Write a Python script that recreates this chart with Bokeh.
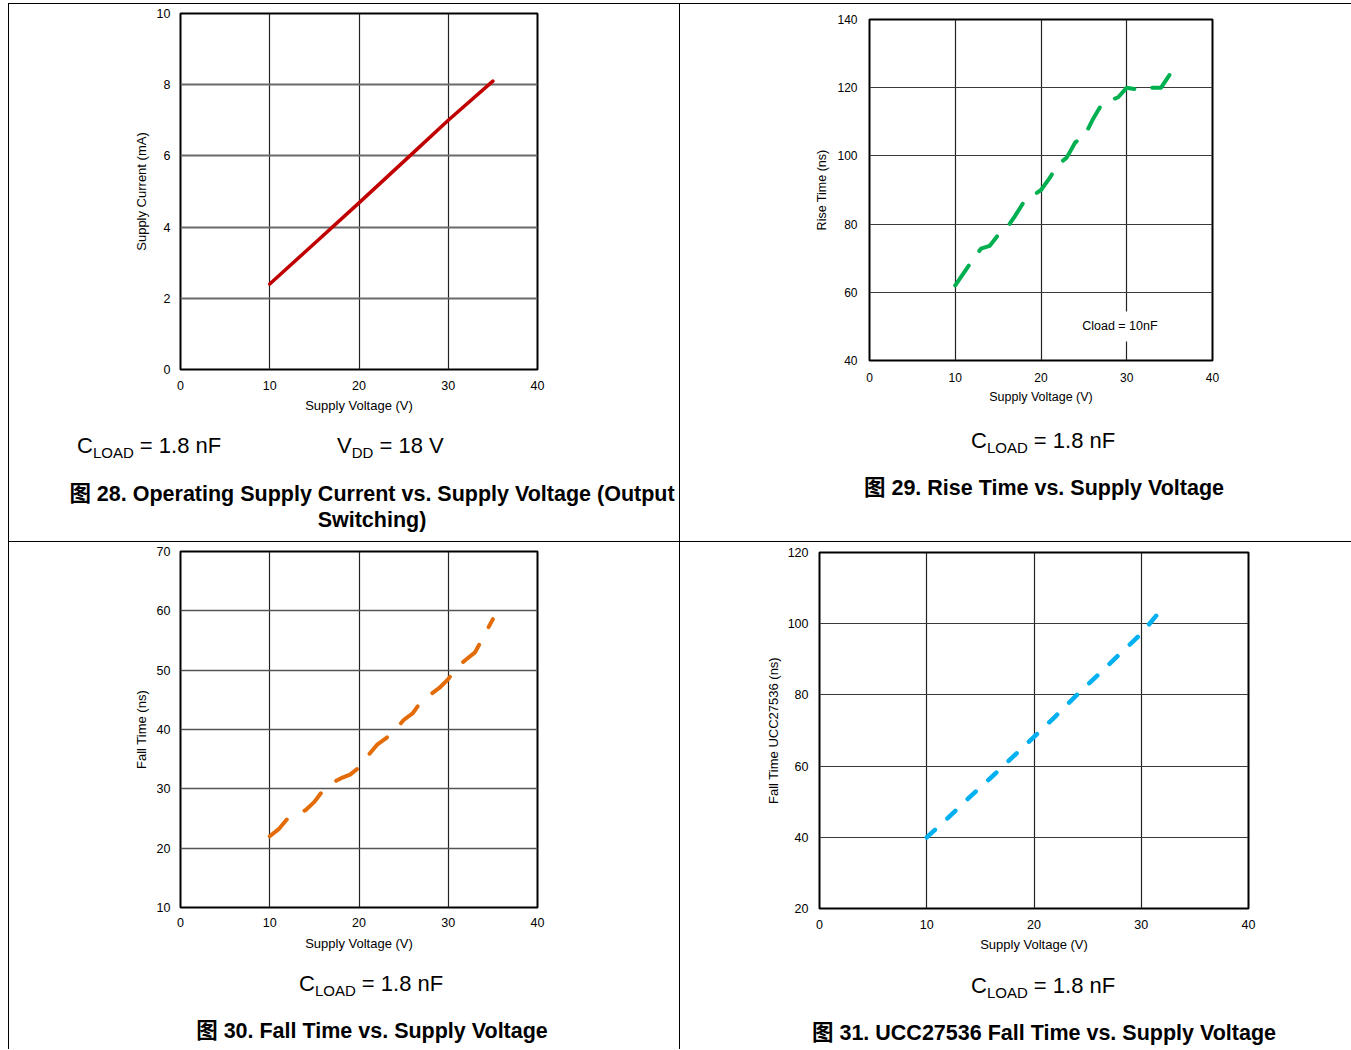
from bokeh.plotting import figure
from bokeh.models import Range1d, FixedTicker, Label, Div
from bokeh.embed import file_html
from bokeh.resources import INLINE

FONT = "Liberation Sans"
CSS_FONT = "'Liberation Sans', 'Noto Sans CJK SC', sans-serif"

# ---------------- data ----------------
x_ticks = [0, 10, 20, 30, 40]

# Fig 28: operating supply current vs supply voltage
v_current = [10, 15, 20, 26, 30, 35]
supply_current = [2.4, 3.54, 4.68, 6.07, 7.0, 8.1]
current_ticks = [0, 2, 4, 6, 8, 10]

# Fig 29: rise time vs supply voltage
v_rise = [10, 11, 12, 13, 14, 15, 16, 17, 18, 19, 20, 21, 22, 23, 24, 25, 26, 27, 28, 29, 30, 31, 32, 33, 34, 35]
rise_time = [62, 65.7, 69.4, 72.8, 73.6, 76.8, 78.8, 82.5, 86.5, 88.3, 90, 93.5, 97.5, 99.5, 104, 105.5,
             110.5, 114.8, 116.2, 117.2, 120, 119.6, 120, 120, 120, 123.8]
rise_ticks = [40, 60, 80, 100, 120, 140]

# Fig 30: fall time vs supply voltage
v_fall = [10, 11, 12, 13, 14, 15, 16, 17, 18, 19, 20, 21, 22, 23, 24, 25, 26, 27, 28, 29, 30, 31, 32, 33, 34, 35]
fall_time = [22.0, 23.2, 25.0, 25.8, 26.4, 27.8, 29.8, 31.0, 31.8, 32.4, 33.6, 35.6, 37.4, 38.5, 39.8, 41.6,
             42.7, 44.8, 45.9, 47.0, 48.5, 50.5, 51.8, 53.0, 55.8, 58.6]
fall_ticks = [10, 20, 30, 40, 50, 60, 70]

# Fig 31: UCC27536 fall time vs supply voltage
v_fall2 = [10, 12, 14, 16, 18, 20, 22, 24, 26, 28, 30, 31.6]
fall_time2 = [40, 45.5, 51.3, 56.8, 62.5, 68.2, 74, 80, 85.7, 91.5, 97.2, 103]
fall2_ticks = [20, 40, 60, 80, 100, 120]

x_label = "Supply Voltage (V)"
SUB = "<span style='font-size:15px;position:relative;top:5px'>{}</span>"
cload_html = "C" + SUB.format("LOAD") + " = 1.8 nF"
vdd_html = "V" + SUB.format("DD") + " = 18 V"
titles = {
    28: "图 28. Operating Supply Current vs. Supply Voltage (Output<br>Switching)",
    29: "图 29. Rise Time vs. Supply Voltage",
    30: "图 30. Fall Time vs. Supply Voltage",
    31: "图 31. UCC27536 Fall Time vs. Supply Voltage",
}


def place(left, top):
    return {"position": "absolute", "left": f"{left}px", "top": f"{top}px"}


def make_chart(left, top, w, h, bl, br, bt, bb, yr, yticks, ylabel, fs_tick, fs_lab,
               ystand, ylabstand, xstand, xlabstand, hgrid_color="#3a3a3a", hgrid_w=1.2):
    p = figure(width=w, height=h, title=None, toolbar_location=None, output_backend="svg",
               x_range=Range1d(0, 40), y_range=Range1d(*yr),
               min_border_left=bl, min_border_right=br, min_border_top=bt, min_border_bottom=bb,
               styles=place(left, top))
    p.background_fill_color = "white"
    p.border_fill_color = None
    p.outline_line_color = "black"
    p.outline_line_width = 2
    p.xaxis.ticker = FixedTicker(ticks=x_ticks)
    p.yaxis.ticker = FixedTicker(ticks=yticks)
    for ax in (p.xaxis[0], p.yaxis[0]):
        ax.axis_line_color = None
        ax.major_tick_line_color = None
        ax.minor_tick_line_color = None
        ax.major_tick_out = 0
        ax.major_tick_in = 0
        ax.major_label_text_font = FONT
        ax.major_label_text_font_size = fs_tick
        ax.major_label_text_color = "black"
        ax.axis_label_text_font = FONT
        ax.axis_label_text_font_size = fs_lab
        ax.axis_label_text_font_style = "normal"
        ax.axis_label_text_color = "black"
    p.yaxis.major_label_standoff = ystand
    p.yaxis.axis_label_standoff = ylabstand
    p.xaxis.major_label_standoff = xstand
    p.xaxis.axis_label_standoff = xlabstand
    p.xaxis.axis_label = x_label
    p.yaxis.axis_label = ylabel
    p.xgrid.grid_line_color = "#222222"
    p.xgrid.grid_line_width = 1.2
    p.ygrid.grid_line_color = hgrid_color
    p.ygrid.grid_line_width = hgrid_w
    return p


def text_div(html, left, top, width, size, bold=False, align="left"):
    st = place(left, top)
    st.update({"font-family": CSS_FONT, "font-size": f"{size}px",
               "font-weight": "bold" if bold else "normal", "line-height": "26px",
               "text-align": align, "white-space": "nowrap", "color": "black"})
    return Div(text=html, width=width, margin=0, styles=st)


def rule(left, top, w, h):
    st = place(left, top)
    st.update({"background-color": "black"})
    return Div(text="", width=w, height=h, margin=0, styles=st)


# ---- chart 28 ----
p1 = make_chart(9, 4, 670, 537, 171, 142, 9, 172, (0, 10), current_ticks, "Supply Current (mA)",
                "12.5px", "13px", 10, 5, 11, 5, hgrid_color="#6a6a6a", hgrid_w=1.8)
p1.line(v_current, supply_current, line_color="#C00000", line_width=3.5, line_cap="round")

# ---- chart 29 ----
p2 = make_chart(680, 4, 663, 537, 189, 131, 15, 181, (40, 140), rise_ticks, "Rise Time (ns)",
                "12px", "12.5px", 12, 5, 12, 5)
p2.line(v_rise, rise_time, line_color="#00B050", line_width=4, line_dash="24 18",
        line_cap="round", line_join="round")
p2.add_layout(Label(x=29.2, y=50, text="Cload = 10nF", text_font=FONT, text_font_size="12.5px",
                    text_align="center", text_baseline="middle", text_color="black",
                    background_fill_color="white", padding=8))

# ---- chart 30 ----
p3 = make_chart(9, 542, 670, 503, 171, 142, 9, 138, (10, 70), fall_ticks, "Fall Time (ns)",
                "12.5px", "13px", 10, 5, 10, 6, hgrid_color="#555555", hgrid_w=1.4)
p3.line(v_fall, fall_time, line_color="#E36C09", line_width=4, line_dash="24 20",
        line_cap="round", line_join="round")

# ---- chart 31 ----
p4 = make_chart(680, 542, 663, 503, 139, 95, 10, 137, (20, 120), fall2_ticks, "Fall Time UCC27536 (ns)",
                "12.5px", "13px", 11, 4, 11, 5)
p4.line(v_fall2, fall_time2, line_color="#00B0F0", line_width=4.5, line_dash="11 17",
        line_cap="round", line_join="round")

# ---- table rules ----
rules = [
    rule(8, 3, 1343, 1),     # top
    rule(8, 3, 1, 1046),     # left
    rule(679, 3, 1, 1046),   # middle vertical
    rule(8, 541, 1343, 1),   # middle horizontal
]

# ---- captions ----
captions = [
    text_div(cload_html, 77, 433, 200, 22),
    text_div(vdd_html, 337, 433, 200, 22),
    text_div(titles[28], 22, 481, 700, 21.5, bold=True, align="center"),
    text_div(cload_html, 971, 428, 200, 22),
    text_div(titles[29], 744, 475, 600, 21.5, bold=True, align="center"),
    text_div(cload_html, 299, 971, 200, 22),
    text_div(titles[30], 72, 1018, 600, 21.5, bold=True, align="center"),
    text_div(cload_html, 971, 973, 200, 22),
    text_div(titles[31], 744, 1020, 600, 21.5, bold=True, align="center"),
]

roots = [p1, p2, p3, p4] + rules + captions
open("out.html", "w").write(file_html(roots, INLINE))
